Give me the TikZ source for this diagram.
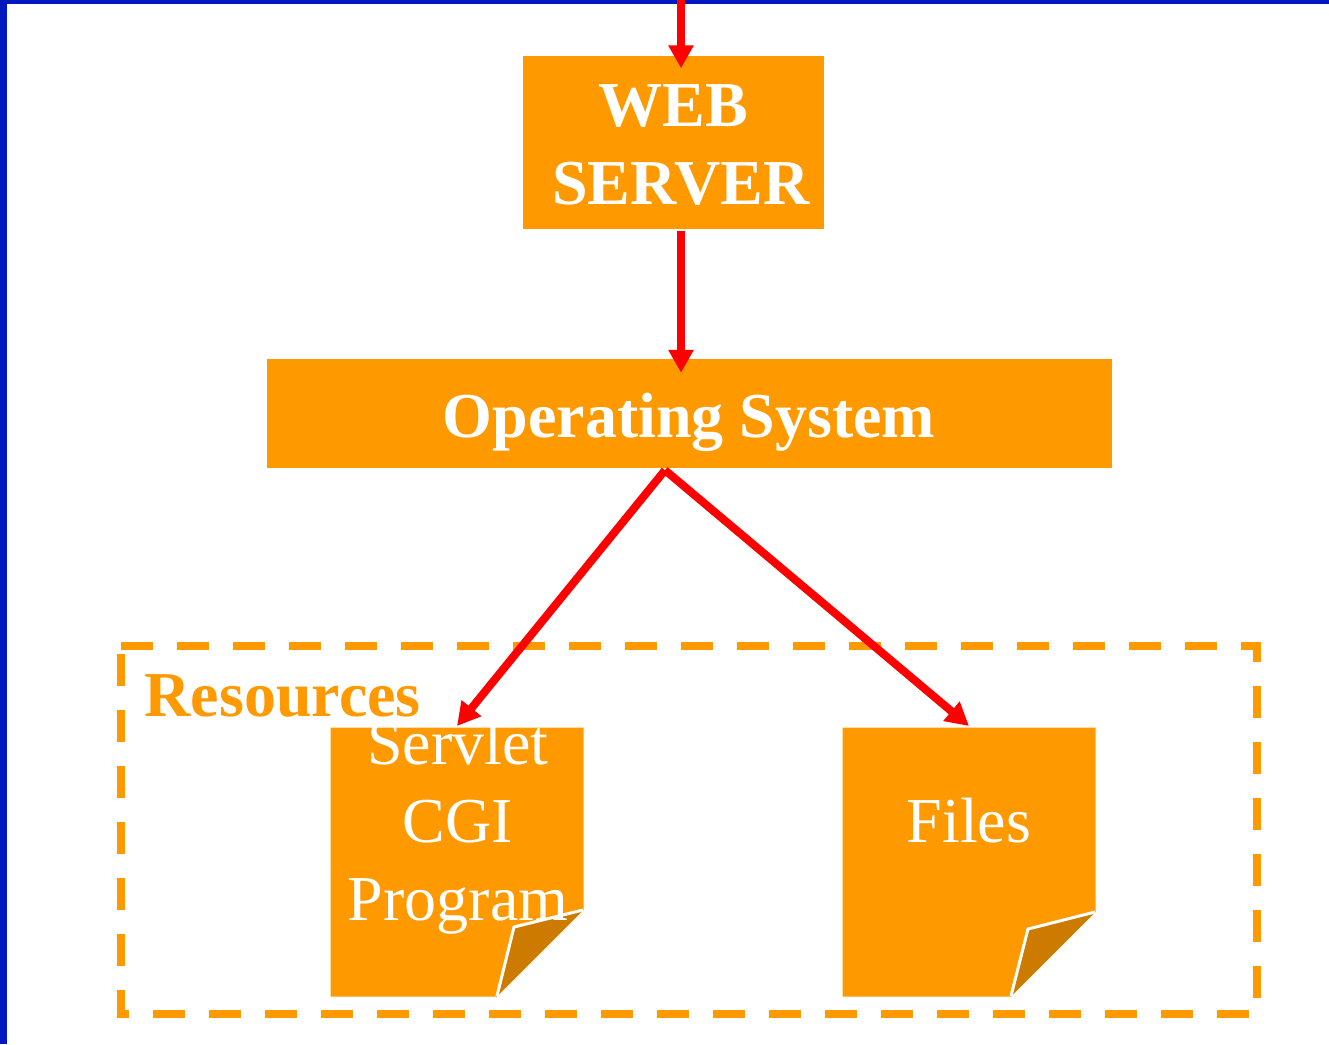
\documentclass[tikz,border=0pt]{standalone}
\usepackage{fontspec}
\setmainfont{Liberation Serif}
\usetikzlibrary{arrows.meta}
\definecolor{myblue}{HTML}{0019BF}
\definecolor{myorange}{HTML}{FF9900}
\definecolor{myfold}{HTML}{CC7A00}
\newcommand{\myfontboxes}{\fontsize{64}{78}\selectfont}
\tikzset{
	box/.style={fill=myorange, text=white, inner sep=0pt, align=center, font=\myfontboxes\bfseries},
	doctext/.style={text=white, inner sep=0pt, align=center, font=\myfontboxes},
	flow/.style={draw=red, line width=8pt, -{Triangle[length=23pt,width=24pt]}},
	page/.style={fill=myorange},
	fold/.style={fill=myfold},
	foldline/.style={draw=white, line width=3pt}
}
\begin{document}
\begin{tikzpicture}[x=1pt,y=-1pt]
		\useasboundingbox (0,0) rectangle (1329,1044);
		%Border of the slide
		\fill [myblue] (0,0) rectangle (1329,4.3);
		\fill [myblue] (0,0) rectangle (7.3,1044);
		%The resources frame
		\draw [myorange, line width=8pt, dash pattern=on 32pt off 24pt] (121,646) -- (1257,646) -- (1257,1014) -- (121,1014) -- cycle;
		\node [inner sep=0pt, anchor=base west, text=myorange, font=\myfontboxes\bfseries] (resources) at (144.5,716) {Resources};
		%The servlet page
		\fill [page] (330.5,727.5) -- (583.5,727.5) -- (583.5,910) -- (497,996.5) -- (330.5,996.5) -- cycle;
		\fill [fold] (497,996) -- (514,927) -- (583,910) -- cycle;
		\draw [foldline] (497,996) -- (514,927) -- (583,910);
		%The files page
		\fill [page] (842.5,727.5) -- (1095.5,727.5) -- (1095.5,912) -- (1011,996.5) -- (842.5,996.5) -- cycle;
		\fill [fold] (1011,996) -- (1028,929) -- (1095,912) -- cycle;
		\draw [foldline] (1011,996) -- (1028,929) -- (1095,912);
		%Text on the pages
		\node [doctext] (servlet) at (458,827) {Servlet\\CGI\\Program};
		\node [doctext] (files) at (969,821) {Files};
		\coordinate (servletin) at (457,726);
		\coordinate (filesin) at (969,726);
		%The two boxes
		\node [box, minimum width=301pt, minimum height=173pt] (web) at (673,142) {\rule{0pt}{47pt}WEB\\\hspace*{16pt}SERVER};
		\node [box, minimum width=845pt, minimum height=109pt, text height=48pt, text depth=0pt] (os) at (689,413.5) {Operating System};
		%Arrows
		\coordinate (client) at (681,0);
		\draw [flow] (client) -- ([xshift=8pt,yshift=-13pt]web.north);
		\draw [flow] ([xshift=8pt,yshift=-2pt]web.south) -- ([yshift=-14pt,xshift=-8pt]os.north);
		\coordinate (split) at ([xshift=-24pt,yshift=-2pt]os.south);
		\draw [flow] (split) -- (servletin);
		\draw [flow] (split) -- (filesin);
\end{tikzpicture}
\end{document}
